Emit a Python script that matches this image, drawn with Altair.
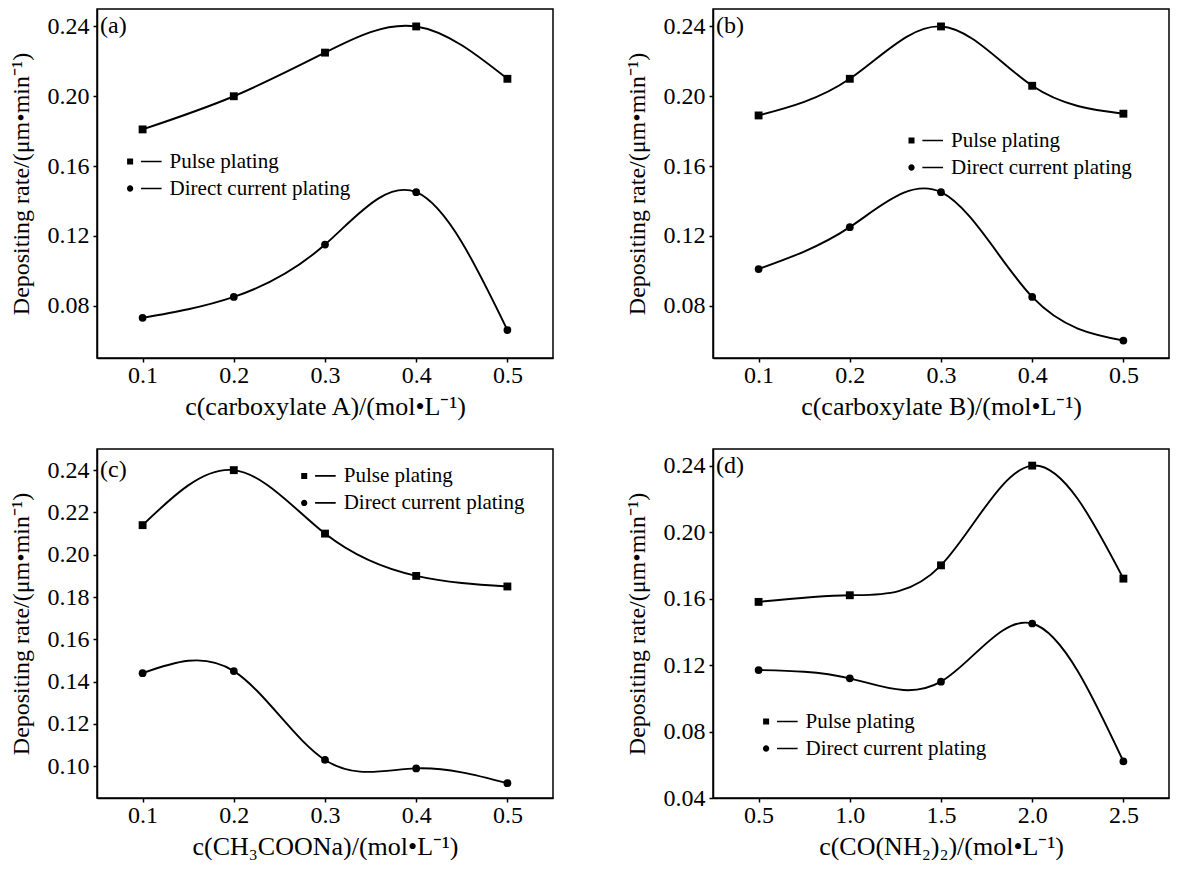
import altair as alt
import pandas as pd

FONT = "Liberation Serif"

# ---------------- data ----------------
series = ["Pulse plating", "Direct current plating"]

x_conc = [0.1, 0.2, 0.3, 0.4, 0.5]
x_urea = [0.5, 1.0, 1.5, 2.0, 2.5]

a_pulse = [0.181, 0.200, 0.225, 0.240, 0.210]
a_dc = [0.073, 0.085, 0.115, 0.145, 0.066]

b_pulse = [0.189, 0.210, 0.240, 0.206, 0.190]
b_dc = [0.101, 0.125, 0.145, 0.085, 0.060]

c_pulse = [0.214, 0.240, 0.210, 0.190, 0.185]
c_dc = [0.144, 0.145, 0.103, 0.099, 0.092]

d_pulse = [0.158, 0.162, 0.180, 0.240, 0.172]
d_dc = [0.117, 0.112, 0.110, 0.145, 0.062]

yticks_ab = [0.08, 0.12, 0.16, 0.20, 0.24]
yticks_c = [0.10, 0.12, 0.14, 0.16, 0.18, 0.20, 0.22, 0.24]
yticks_d = [0.04, 0.08, 0.12, 0.16, 0.20, 0.24]

y_title = "Depositing rate/(μm•min⁻¹)"
x_titles = [
    "c(carboxylate A)/(mol•L⁻¹)",
    "c(carboxylate B)/(mol•L⁻¹)",
    "c(CH₃COONa)/(mol•L⁻¹)",
    "c(CO(NH₂)₂)/(mol•L⁻¹)",
]
tags = ["(a)", "(b)", "(c)", "(d)"]

# legend symbols: marker followed by a short line segment (all filled shapes)
SQ_PATH = "M-3.6,-0.4H-2.8V0.4H-3.6Z M-1.75,-0.11H1V0.11H-1.75Z"
CI_PATH = ("M-3.62,0A0.42,0.42 0 1,0 -2.78,0A0.42,0.42 0 1,0 -3.62,0Z "
           "M-1.75,-0.11H1V0.11H-1.75Z")

W, H = 456, 349


def panel(tag, xs, pulse, dc, xtitle, xdomain, xticks, ydomain, yticks, legx, legy):
    df = pd.DataFrame({
        "x": xs + xs,
        "y": pulse + dc,
        "series": [series[0]] * len(xs) + [series[1]] * len(xs),
    })
    df["label"] = df["series"]
    base = alt.Chart(df)
    xenc = alt.X("x:Q", scale=alt.Scale(domain=xdomain, nice=False, zero=False),
                 axis=alt.Axis(values=xticks, format=".1f", title=xtitle))
    yenc = alt.Y("y:Q", scale=alt.Scale(domain=ydomain, nice=False, zero=False),
                 axis=alt.Axis(values=yticks, format=".2f", title=y_title))
    line = base.mark_line(interpolate="natural", color="black", strokeWidth=1.9).encode(
        x=xenc, y=yenc, detail="series:N")
    sq = base.transform_filter(alt.datum.series == series[0]).mark_point(
        shape="square", filled=True, color="black", opacity=1, size=62).encode(x=xenc, y=yenc)
    ci = base.transform_filter(alt.datum.series == series[1]).mark_point(
        shape="circle", filled=True, color="black", opacity=1, size=60).encode(x=xenc, y=yenc)
    leg = base.transform_filter("false").mark_point(filled=True, color="black", size=225).encode(
        x=xenc, y=yenc,
        shape=alt.Shape("label:N",
                        scale=alt.Scale(domain=series, range=[SQ_PATH, CI_PATH]),
                        legend=alt.Legend(orient="none", legendX=legx, legendY=legy, title=None,
                                          padding=0, rowPadding=5, symbolSize=225,
                                          symbolFillColor="black", symbolStrokeColor="black",
                                          symbolStrokeWidth=0, symbolOpacity=1,
                                          labelFont=FONT, labelFontSize=21, labelColor="black",
                                          labelOffset=5, labelLimit=400)))
    tagdf = pd.DataFrame({"tag": [tag]})
    txt = alt.Chart(tagdf).mark_text(align="left", baseline="middle", font=FONT, fontSize=24,
                                     color="black").encode(
        text="tag:N", x=alt.value(3), y=alt.datum(0.24))
    return alt.layer(line, sq, ci, leg, txt).properties(width=W, height=H)


pa = panel(tags[0], x_conc, a_pulse, a_dc, x_titles[0], [0.05, 0.55], x_conc,
           [0.05, 0.25], yticks_ab, 46.6, 142)
pb = panel(tags[1], x_conc, b_pulse, b_dc, x_titles[1], [0.05, 0.55], x_conc,
           [0.05, 0.25], yticks_ab, 212, 121)
pc = panel(tags[2], x_conc, c_pulse, c_dc, x_titles[2], [0.05, 0.55], x_conc,
           [0.085, 0.25], yticks_c, 220.7, 16.4)
pd_ = panel(tags[3], x_urea, d_pulse, d_dc, x_titles[3], [0.25, 2.75], x_urea,
            [0.04, 0.25], yticks_d, 66.6, 262)

chart = alt.concat(pa, pb, pc, pd_, columns=2,
                   spacing=alt.RowColnumber(row=28, column=70)).resolve_scale(
    shape="independent").resolve_legend(shape="independent").properties(
    padding={"left": 0, "top": 0, "right": 0, "bottom": 0}
).configure_view(stroke="black", strokeWidth=1.5).configure_axis(
    domainColor="black", domainWidth=1.5, tickColor="black", tickWidth=1.5, tickSize=4,
    labelFont=FONT, labelFontSize=24, labelColor="black",
    titleFont=FONT, titleFontWeight="normal", titleColor="black",
    grid=False
).configure_axisX(titlePadding=6, labelPadding=1, titleFontSize=26).configure_axisY(
    titlePadding=14, labelPadding=4, titleFontSize=24)

chart.save("out.html", embed_options={"renderer": "svg", "actions": False})
